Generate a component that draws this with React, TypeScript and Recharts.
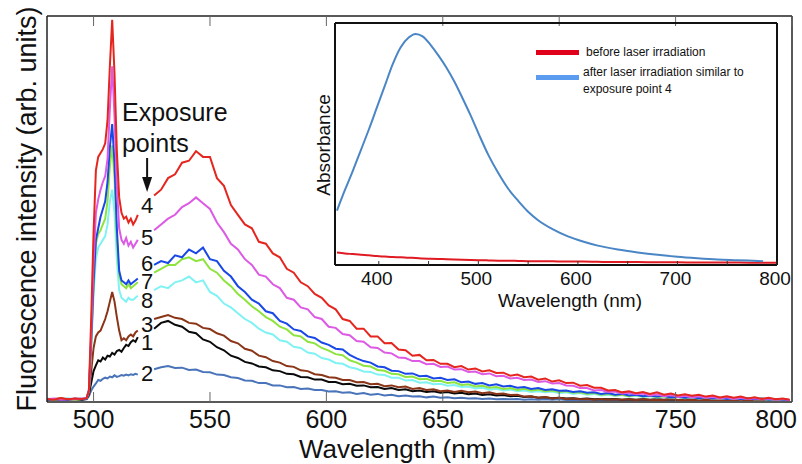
import React from 'react';
import { LineChart, Line, XAxis, YAxis, ReferenceDot } from 'recharts';

const FONT = '"Liberation Sans", Arial, Helvetica, sans-serif';

// ---------- main chart data ----------
const WAVELENGTH = [
  480, 483, 486, 489, 492, 495, 497, 498, 499, 500,
  501, 502, 503, 504, 505, 506, 507, 508, 509, 510,
  511, 512, 513, 514, 515, 516, 517, 518, 519, 522,
  526, 529, 532, 535, 538, 541, 544, 547, 550, 553,
  556, 559, 562, 565, 568, 571, 574, 577, 580, 583,
  586, 589, 592, 595, 598, 601, 604, 607, 610, 613,
  616, 619, 622, 625, 628, 631, 634, 637, 640, 643,
  646, 649, 652, 655, 658, 661, 664, 667, 670, 673,
  676, 679, 682, 685, 688, 691, 694, 697, 700, 703,
  706, 709, 712, 715, 718, 721, 724, 727, 730, 733,
  736, 739, 742, 745, 748, 751, 754, 757, 760, 763,
  766, 769, 772, 775, 778, 781, 784, 787, 790, 793,
  796, 799,
];

const POINT_4 = [
  0.8, 0.6, 1.0, 0.7, 0.9, 0.8, 1.0, 3, 22, 44,
  60, 63.5, 64.5, 65.5, 67, 73, 87, 99, 85, 65,
  53, 49, 47.5, 48, 46.5, 47.5, 46, 47, 48.5, null,
  53.5, 55, 58, 59, 62, 62.5, 65, 63.5, 63.5, 58,
  56, 51, 48.5, 46, 45, 41.5, 41, 38.5, 37.5, 34.5,
  33.5, 31, 30, 28, 27, 25, 24, 21.5, 21, 19,
  19, 17, 17, 15.2, 15.3, 13.6, 13.4, 12, 12.2, 10.8,
  10.9, 9.9, 9.9, 9.0, 9.3, 8.4, 8.7, 7.9, 8.2, 7.5,
  7.6, 6.8, 7.1, 6.4, 6.6, 5.8, 6.1, 5.3, 5.6, 4.9,
  5.0, 4.2, 4.4, 3.7, 3.7, 3.0, 3.1, 2.5, 2.8, 2.3,
  2.6, 2.1, 2.5, 1.9, 2.2, 1.7, 2.0, 1.6, 1.9, 1.4,
  1.7, 1.2, 1.5, 1.1, 1.4, 0.9, 1.2, 0.8, 1.1, 0.7,
  0.9, 0.6,
];

const POINT_5 = [
  0.7, 0.9, 0.6, 0.8, 0.7, 0.9, 1.0, 3, 18, 36,
  49, 52.5, 55, 57, 58.5, 63, 76, 87, 74, 56,
  45, 42, 41, 42.5, 40.5, 41.5, 40, 41, 42, null,
  44.5, 46, 47.5, 48.5, 50.5, 51.5, 53, 51.5, 50, 46.5,
  44, 41, 39.5, 37, 35.5, 33, 32.5, 30.5, 29.5, 27,
  26.5, 24.5, 24, 22, 21.5, 19.5, 19.2, 17.6, 17.3, 15.8,
  15.6, 14.2, 14.0, 12.8, 12.6, 11.5, 11.4, 10.6, 10.6, 9.8,
  9.9, 9.1, 9.2, 8.4, 8.5, 7.8, 7.9, 7.2, 7.4, 6.7,
  6.8, 6.1, 6.3, 5.7, 5.8, 5.2, 5.4, 4.8, 4.9, 4.3,
  4.2, 3.6, 3.6, 3.0, 3.1, 2.6, 2.7, 2.2, 2.4, 2.0,
  2.2, 1.7, 2.0, 1.5, 1.8, 1.3, 1.6, 1.2, 1.5, 1.1,
  1.3, 0.9, 1.2, 0.8, 1.1, 0.8, 1.0, 0.7, 0.9, 0.6,
  0.8, 0.5,
];

const POINT_6 = [
  0.6, 0.8, 0.7, 0.6, 0.9, 0.7, 0.9, 3, 16, 31,
  42, 45, 48, 50, 52, 57, 66, 72, 62, 45,
  34, 31.5, 31, 30.5, 31.5, 30.5, 31, 31.5, 32, null,
  35.5, 36.5, 36, 38, 37.5, 39.5, 38.5, 40, 37, 36.5,
  34, 32.5, 30, 28.5, 26.5, 25.5, 23.5, 23, 21, 20.3,
  18.8, 18.4, 17, 16.6, 15.4, 14.8, 13.8, 13.6, 12.2, 11.3,
  10.6, 10.2, 9.2, 9.0, 8.1, 8.0, 7.3, 7.4, 6.7, 6.8,
  6.1, 6.3, 5.7, 5.9, 5.1, 5.3, 4.7, 4.9, 4.3, 4.6,
  4.0, 4.2, 3.7, 3.9, 3.4, 3.6, 3.1, 3.3, 2.9, 3.0,
  2.6, 2.8, 2.4, 2.5, 2.1, 2.3, 1.9, 2.1, 1.7, 1.9,
  1.5, 1.7, 1.4, 1.6, 1.2, 1.4, 1.1, 1.3, 1.0, 1.2,
  0.9, 1.1, 0.8, 1.0, 0.8, 0.9, 0.7, 0.9, 0.6, 0.8,
  0.6, 0.5,
];

const POINT_7 = [
  0.7, 0.6, 0.9, 0.7, 0.6, 0.8, 0.9, 3, 15, 30,
  41, 43.5, 44.5, 46, 47.5, 52, 61, 66.5, 58, 42,
  33, 30.5, 30, 29.5, 30.5, 29.5, 30, 30.5, 31, null,
  33.5, 34.5, 35.5, 35.5, 37, 37.5, 36.5, 37, 34.5, 33.5,
  31.5, 30, 28, 26.5, 24.8, 23.5, 22, 21, 19.5, 18.8,
  17.3, 17, 15.6, 15.2, 14, 13.3, 12.4, 12.1, 10.8, 10.2,
  9.4, 9.2, 8.3, 8.1, 7.3, 7.2, 6.5, 6.6, 5.9, 6.0,
  5.4, 5.5, 4.9, 5.1, 4.4, 4.6, 4.0, 4.2, 3.7, 3.9,
  3.4, 3.6, 3.1, 3.4, 3.0, 3.2, 2.8, 3.0, 2.6, 2.8,
  2.4, 2.5, 2.1, 2.3, 1.9, 2.1, 1.7, 1.9, 1.5, 1.8,
  1.4, 1.6, 1.3, 1.5, 1.2, 1.4, 1.1, 1.3, 1.0, 1.2,
  0.9, 1.1, 0.8, 1.0, 0.8, 0.9, 0.7, 0.9, 0.6, 0.8,
  0.6, 0.5,
];

const POINT_8 = [
  0.9, 0.7, 0.8, 1.0, 0.7, 0.9, 1.0, 3, 14, 28,
  37, 40, 41, 42, 43, 46, 52, 55, 49, 37,
  29, 27, 26.5, 26, 27, 26.5, 26.5, 27, 27.5, null,
  29, 30, 29.5, 31, 31.5, 32.5, 31, 31.5, 28.5, 27.5,
  25.5, 24.5, 23, 21.5, 20.5, 19, 18, 17.5, 16, 15.6,
  14.3, 14, 12.8, 12.5, 11.4, 11, 10.1, 9.9, 9.0, 8.6,
  7.9, 7.8, 7.1, 7.0, 6.3, 6.3, 5.6, 5.7, 5.0, 5.1,
  4.6, 4.7, 4.2, 4.4, 3.9, 4.0, 3.5, 3.7, 3.2, 3.4,
  3.0, 3.2, 2.8, 3.0, 2.6, 2.8, 2.5, 2.7, 2.3, 2.5,
  2.1, 2.3, 1.9, 2.1, 1.7, 1.9, 1.6, 1.8, 1.4, 1.6,
  1.3, 1.5, 1.2, 1.4, 1.1, 1.3, 1.0, 1.2, 0.9, 1.1,
  0.9, 1.0, 0.8, 0.9, 0.7, 0.9, 0.7, 0.8, 0.6, 0.7,
  0.6, 0.5,
];

const POINT_3 = [
  0.7, 0.8, 1.0, 0.6, 0.8, 0.7, 0.9, 2, 8, 14,
  17, 18, 18.5, 20, 21.5, 23.5, 26, 28.5, 26, 22,
  18.5, 16, 16.5, 16, 17, 17.5, 17, 18, 18.5, null,
  21.5, 22, 22.5, 21.8, 21.5, 20.5, 20.3, 19.2, 18.9, 17.8,
  17.2, 15.8, 15.2, 13.8, 13.3, 12.0, 11.6, 10.6, 10.2, 9.3,
  9.1, 8.2, 8.0, 7.2, 7.0, 6.4, 6.3, 5.7, 5.7, 5.1,
  5.2, 4.6, 4.7, 4.1, 4.3, 3.8, 4.0, 3.4, 3.6, 3.1,
  3.3, 2.8, 3.0, 2.6, 2.9, 2.5, 2.7, 2.3, 2.5, 2.1,
  2.2, 1.8, 1.9, 1.4, 1.5, 1.1, 1.3, 0.9, 1.1, 0.8,
  0.9, 0.7, 0.8, 0.6, 0.8, 0.6, 0.7, 0.6, 0.7, 0.5,
  0.7, 0.5, 0.6, 0.5, 0.7, 0.5, 0.6, 0.5, 0.6, 0.5,
  0.6, 0.5, 0.6, 0.5, 0.6, 0.5, 0.6, 0.5, 0.6, 0.5,
  0.6, 0.5,
];

const POINT_1 = [
  0.6, 0.7, 0.6, 0.8, 0.7, 0.6, 0.8, 2, 5, 8,
  9.5, 10.8, 10.5, 11.5, 11, 12, 11.8, 12.7, 12.3, 13.2,
  13.5, 13, 14, 14.8, 14.5, 15.5, 16, 15.6, 16.8, null,
  19, 20.5, 21, 20, 19.5, 18.2, 17.8, 16.2, 15.6, 14.2,
  13.4, 12.0, 11.4, 10.4, 10.0, 9.2, 9.0, 8.2, 8.0, 7.3,
  7.2, 6.5, 6.4, 5.8, 5.8, 5.2, 5.2, 4.6, 4.7, 4.2,
  4.3, 3.8, 3.9, 3.4, 3.6, 3.1, 3.3, 2.8, 3.0, 2.6,
  2.8, 2.4, 2.6, 2.2, 2.4, 2.0, 2.2, 1.8, 2.0, 1.7,
  1.8, 1.5, 1.6, 1.3, 1.4, 1.1, 1.2, 1.0, 1.1, 0.9,
  1.0, 0.8, 0.9, 0.7, 0.8, 0.7, 0.8, 0.6, 0.7, 0.6,
  0.7, 0.6, 0.7, 0.6, 0.7, 0.5, 0.7, 0.6, 0.7, 0.5,
  0.6, 0.5, 0.7, 0.5, 0.6, 0.5, 0.6, 0.5, 0.6, 0.5,
  0.6, 0.5,
];

const POINT_2 = [
  0.6, 0.6, 0.7, 0.6, 0.7, 0.6, 0.7, 1.5, 3, 4,
  4.8, 5.7, 5.5, 6, 6.3, 6.1, 6.6, 6.4, 6.9, 6.5,
  6.7, 7.0, 6.8, 7.1, 6.9, 7.2, 7.0, 7.3, 7.1, null,
  8.5, 9.0, 9.3, 8.8, 8.9, 8.3, 8.4, 7.8, 7.7, 7.1,
  7.0, 6.4, 6.2, 5.6, 5.5, 4.9, 4.9, 4.3, 4.3, 3.8,
  3.9, 3.4, 3.5, 3.1, 3.1, 2.7, 2.8, 2.4, 2.5, 2.1,
  2.3, 1.9, 2.1, 1.7, 1.9, 1.5, 1.7, 1.4, 1.5, 1.2,
  1.4, 1.1, 1.2, 1.0, 1.1, 0.9, 1.0, 0.8, 0.9, 0.7,
  0.8, 0.7, 0.8, 0.6, 0.7, 0.6, 0.7, 0.6, 0.7, 0.5,
  0.6, 0.5, 0.6, 0.5, 0.6, 0.5, 0.6, 0.5, 0.6, 0.5,
  0.6, 0.5, 0.6, 0.5, 0.6, 0.5, 0.6, 0.5, 0.6, 0.5,
  0.6, 0.5, 0.6, 0.5, 0.6, 0.5, 0.6, 0.5, 0.6, 0.5,
  0.6, 0.5,
];

const SERIES = [
  { key: 'p2', values: POINT_2, color: '#4a74b9' },
  { key: 'p1', values: POINT_1, color: '#0a0a0a' },
  { key: 'p3', values: POINT_3, color: '#8a3517' },
  { key: 'p8', values: POINT_8, color: '#80f2f4' },
  { key: 'p7', values: POINT_7, color: '#8ee43e' },
  { key: 'p6', values: POINT_6, color: '#1a48e6' },
  { key: 'p5', values: POINT_5, color: '#dc5ae4' },
  { key: 'p4', values: POINT_4, color: '#e5261f' },
];

const MAIN_TICKS = [500, 550, 600, 650, 700, 750, 800];

// annotation text (labels placed in data coordinates)
const EXPOSURE_NUMBERS = ['4', '5', '6', '7', '8', '3', '1', '2'];
const EXPOSURE_LEVELS = [50.9, 42.5, 35.8, 31.3, 26.4, 20.2, 15.5, 7.3];
const EXPOSURE_WL = 523;
const TITLE_LINES = ['Exposure', 'points'];
const TITLE_LEVELS = [72.8, 64.8];
const TITLE_WL = 512.2;
const ARROW_TIP = 54.4;

// ---------- inset data ----------
const INSET_WL = [
  358, 366, 374, 382, 390, 398, 406, 414, 422, 430,
  437, 444, 452, 460, 468, 476, 484, 492, 500, 510,
  520, 530, 540, 550, 560, 575, 590, 605, 620, 640,
  660, 680, 700, 720, 740, 760, 786, 800,
];
const INSET_AFTER = [
  0.225, 0.31, 0.39, 0.475, 0.56, 0.65, 0.74, 0.83, 0.9, 0.94,
  0.955, 0.945, 0.91, 0.865, 0.815, 0.757, 0.69, 0.62, 0.545, 0.455,
  0.38, 0.315, 0.265, 0.22, 0.185, 0.147, 0.118, 0.097, 0.08, 0.064,
  0.052, 0.042, 0.034, 0.028, 0.023, 0.02, 0.016, null,
];
const INSET_BEFORE = [
  0.052, 0.048, 0.045, 0.042, 0.04, 0.037, 0.035, 0.033, 0.032, 0.03,
  0.029, 0.027, 0.026, 0.025, 0.024, 0.023, 0.022, 0.021, 0.02, 0.019,
  0.018, 0.018, 0.017, 0.016, 0.016, 0.015, 0.014, 0.014, 0.013, 0.012,
  0.012, 0.011, 0.011, 0.01, 0.01, 0.01, 0.009, 0.009,
];
const INSET_TICKS = [400, 450, 500, 550, 600, 650, 700, 750, 800];
const INSET_LEGEND = [
  { lines: ['before laser irradiation'], color: '#e0001b' },
  { lines: ['after laser irradiation similar to', 'exposure point 4'], color: '#5b9cf0' },
];

const MAIN_DATA = WAVELENGTH.map((wl, i) => {
  const row: Record<string, number | null> = { wl };
  SERIES.forEach((s) => {
    row[s.key] = s.values[i];
  });
  return row;
});

const INSET_DATA = INSET_WL.map((wl, i) => ({
  wl,
  after: INSET_AFTER[i],
  before: INSET_BEFORE[i],
}));

// ---------- custom renderers ----------
const MainBottomTick = (props: any) => {
  const { x, y, payload } = props;
  const last = payload.value === MAIN_TICKS[MAIN_TICKS.length - 1];
  return (
    <g>
      <line x1={x} y1={y} x2={x} y2={y - 10} stroke="#666" strokeWidth={1} />
      <text
        x={last ? x + 5 : x}
        y={y + 26}
        textAnchor={last ? 'end' : 'middle'}
        fontSize={25}
        fontFamily={FONT}
        fill="#111"
      >
        {payload.value}
      </text>
    </g>
  );
};

const MainTopTick = (props: any) => {
  const { x, y } = props;
  return <line x1={x} y1={y} x2={x} y2={y + 10} stroke="#666" strokeWidth={1} />;
};

const InsetTick = (props: any) => {
  const { x, y, payload } = props;
  return (
    <g>
      <line x1={x} y1={y} x2={x} y2={y - 4} stroke="#333" strokeWidth={1} />
      {payload.value % 100 === 0 ? (
        <text x={x - 2} y={y + 20} textAnchor="middle" fontSize={19} fontFamily={FONT} fill="#111">
          {payload.value}
        </text>
      ) : null}
    </g>
  );
};

const mainXLabel = (props: any) => {
  const vb = props.viewBox;
  return (
    <text x={vb.x + vb.width / 2 - 22} y={vb.y + 56} textAnchor="middle" fontSize={26} fontFamily={FONT} fill="#111">
      Wavelength (nm)
    </text>
  );
};

const mainYLabel = (props: any) => {
  const vb = props.viewBox;
  const cx = vb.x - 10;
  const cy = vb.y + vb.height / 2;
  return (
    <text
      x={cx}
      y={cy}
      transform={`rotate(-90, ${cx}, ${cy})`}
      textAnchor="middle"
      fontSize={27}
      fontFamily={FONT}
      fill="#111"
    >
      Fluorescence intensity (arb. units)
    </text>
  );
};

const insetXLabel = (props: any) => {
  const vb = props.viewBox;
  return (
    <text x={vb.x + vb.width / 2 + 14} y={vb.y + 42} textAnchor="middle" fontSize={19} fontFamily={FONT} fill="#111">
      Wavelength (nm)
    </text>
  );
};

const insetYLabel = (props: any) => {
  const vb = props.viewBox;
  const cx = vb.x - 4;
  const cy = vb.y + vb.height / 2 + 1;
  return (
    <text
      x={cx}
      y={cy}
      transform={`rotate(-90, ${cx}, ${cy})`}
      textAnchor="middle"
      fontSize={19}
      fontFamily={FONT}
      fill="#111"
    >
      Absorbance
    </text>
  );
};

const textShape = (text: string, anchor: 'start' | 'middle', size: number, baseline?: string) => (p: any) => (
  <text
    x={p.cx}
    y={p.cy}
    textAnchor={anchor}
    dominantBaseline={baseline}
    fontSize={size}
    fontFamily={FONT}
    fill="#111"
  >
    {text}
  </text>
);

const arrowShape = (p: any) => {
  const { cx, cy } = p;
  return (
    <g>
      <line x1={cx} y1={cy - 34} x2={cx} y2={cy - 12} stroke="#111" strokeWidth={2} />
      <path d={`M ${cx - 5} ${cy - 15} L ${cx + 5} ${cy - 15} L ${cx} ${cy} Z`} fill="#111" />
    </g>
  );
};

const MAIN_FRAME = { stroke: '#222', strokeWidth: 1.5 };
const INSET_FRAME = { stroke: '#111', strokeWidth: 2 };

export default function App() {
  return (
    <div
      style={{
        position: 'absolute',
        left: 0,
        top: 0,
        width: 802,
        height: 464,
        background: '#fff',
        fontFamily: FONT,
        overflow: 'hidden',
      }}
    >
      <div style={{ position: 'absolute', left: 0, top: 0 }}>
        <LineChart width={802} height={464} data={MAIN_DATA} margin={{ top: 15, right: 9, bottom: 61, left: 46 }}>
          <XAxis
            dataKey="wl"
            type="number"
            domain={[480, 800]}
            ticks={MAIN_TICKS}
            interval={0}
            height={1}
            tickSize={0}
            tickMargin={0}
            tickLine={false}
            axisLine={MAIN_FRAME}
            tick={<MainBottomTick />}
            allowDataOverflow
            label={mainXLabel}
          />
          <XAxis
            xAxisId="top"
            orientation="top"
            dataKey="wl"
            type="number"
            domain={[480, 800]}
            ticks={MAIN_TICKS}
            interval={0}
            height={1}
            tickSize={0}
            tickMargin={0}
            tickLine={false}
            axisLine={MAIN_FRAME}
            tick={<MainTopTick />}
            allowDataOverflow
          />
          <YAxis
            type="number"
            domain={[0, 100]}
            width={1}
            tick={false}
            tickLine={false}
            axisLine={MAIN_FRAME}
            allowDataOverflow
            label={mainYLabel}
          />
          <YAxis
            yAxisId="right"
            orientation="right"
            type="number"
            domain={[0, 100]}
            width={1}
            tick={false}
            tickLine={false}
            axisLine={MAIN_FRAME}
          />
          {SERIES.map((s) => (
            <Line
              key={s.key}
              dataKey={s.key}
              stroke={s.color}
              strokeWidth={2}
              dot={false}
              type="linear"
              connectNulls={false}
              isAnimationActive={false}
            />
          ))}
          {TITLE_LINES.map((t, i) => (
            <ReferenceDot key={t} x={TITLE_WL} y={TITLE_LEVELS[i]} r={0} shape={textShape(t, 'start', 25)} />
          ))}
          <ReferenceDot x={EXPOSURE_WL} y={ARROW_TIP} r={0} shape={arrowShape} />
          {EXPOSURE_NUMBERS.map((t, i) => (
            <ReferenceDot
              key={'n' + t}
              x={EXPOSURE_WL}
              y={EXPOSURE_LEVELS[i]}
              r={0}
              shape={textShape(t, 'middle', 22, 'central')}
            />
          ))}
        </LineChart>
      </div>

      <div style={{ position: 'absolute', left: 0, top: 0 }}>
        <LineChart width={802} height={464} data={INSET_DATA} margin={{ top: 22, right: 24, bottom: 198, left: 334 }}>
          <XAxis
            dataKey="wl"
            type="number"
            domain={[356, 800]}
            ticks={INSET_TICKS}
            interval={0}
            height={1}
            tickSize={0}
            tickMargin={0}
            tickLine={false}
            axisLine={INSET_FRAME}
            tick={<InsetTick />}
            allowDataOverflow
            label={insetXLabel}
          />
          <XAxis
            xAxisId="top"
            orientation="top"
            dataKey="wl"
            type="number"
            domain={[356, 800]}
            height={1}
            tick={false}
            tickLine={false}
            axisLine={INSET_FRAME}
            allowDataOverflow
          />
          <YAxis
            type="number"
            domain={[0, 1]}
            width={1}
            tick={false}
            tickLine={false}
            axisLine={INSET_FRAME}
            allowDataOverflow
            label={insetYLabel}
          />
          <YAxis
            yAxisId="right"
            orientation="right"
            type="number"
            domain={[0, 1]}
            width={1}
            tick={false}
            tickLine={false}
            axisLine={INSET_FRAME}
          />
          <Line dataKey="before" stroke="#e01a22" strokeWidth={2} dot={false} type="monotone" isAnimationActive={false} />
          <Line dataKey="after" stroke="#4a86c6" strokeWidth={2} dot={false} type="monotone" isAnimationActive={false} />
        </LineChart>
      </div>

      {INSET_LEGEND.map((item, i) => (
        <div
          key={i}
          style={{
            position: 'absolute',
            left: 536,
            top: i === 0 ? 44 : 64,
            display: 'flex',
            alignItems: 'flex-start',
          }}
        >
          <div
            style={{
              width: 43,
              height: 5,
              background: item.color,
              marginTop: i === 0 ? 6 : 11,
              marginRight: i === 0 ? 7 : 4,
            }}
          />
          <div style={{ fontSize: 12, lineHeight: '16.6px', color: '#111', whiteSpace: 'nowrap' }}>
            {item.lines.map((l) => (
              <div key={l}>{l}</div>
            ))}
          </div>
        </div>
      ))}
    </div>
  );
}
